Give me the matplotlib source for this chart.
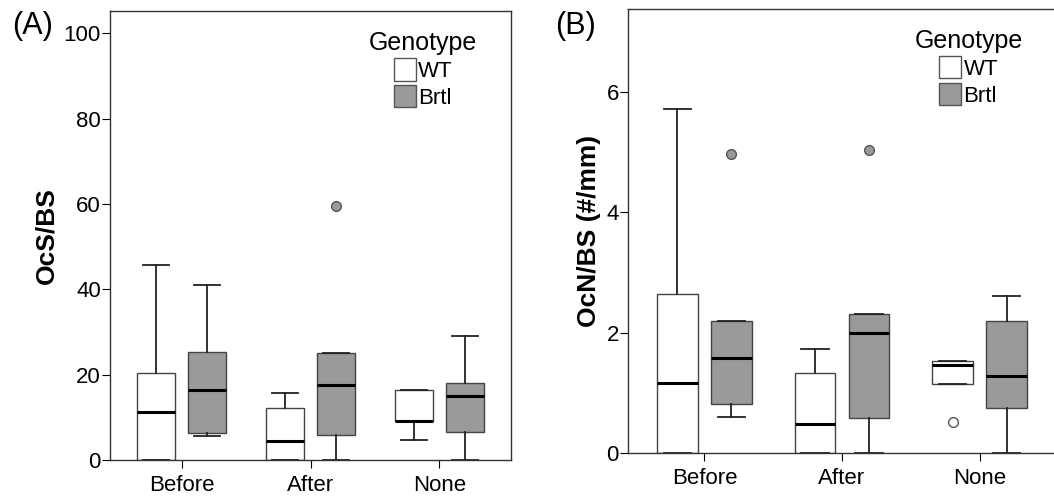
import matplotlib
matplotlib.use("Agg")
import matplotlib.pyplot as plt
from matplotlib.patches import Patch

plt.rcParams['font.family'] = ['Liberation Sans', 'DejaVu Sans']

groups = ["Before", "After", "None"]

# panel A: OcS/BS box stats per group (whislo, q1, med, q3, whishi)
a_wt_lo = [0, 0, 4.6]
a_wt_q1 = [0, 0, 9.2]
a_wt_med = [11.2, 4.5, 9.2]
a_wt_q3 = [20.5, 12.3, 16.5]
a_wt_hi = [45.6, 15.8, 16.5]
a_wt_out = [[], [], []]

a_br_lo = [5.6, 0, 0]
a_br_q1 = [6.4, 5.9, 6.5]
a_br_med = [16.4, 17.5, 15.0]
a_br_q3 = [25.4, 25.0, 18.1]
a_br_hi = [40.9, 25.0, 29.0]
a_br_out = [[], [59.6], []]

# panel B: OcN/BS (#/mm)
b_wt_lo = [0, 0, 1.14]
b_wt_q1 = [0, 0, 1.14]
b_wt_med = [1.17, 0.48, 1.46]
b_wt_q3 = [2.64, 1.33, 1.52]
b_wt_hi = [5.71, 1.72, 1.52]
b_wt_out = [[], [], [0.52]]

b_br_lo = [0.60, 0, 0]
b_br_q1 = [0.81, 0.58, 0.75]
b_br_med = [1.58, 2.0, 1.27]
b_br_q3 = [2.19, 2.31, 2.19]
b_br_hi = [2.19, 2.31, 2.60]
b_br_out = [[4.97], [5.03], []]

WT_COL = "white"
BR_COL = "#9a9a9a"


def stats(lo, q1, med, q3, hi, out):
    res = []
    for i in range(len(lo)):
        res.append(dict(whislo=lo[i], q1=q1[i], med=med[i], q3=q3[i],
                        whishi=hi[i], fliers=out[i]))
    return res


def draw(ax, wt, br, ylim, yticks, ylabel, lx):
    pos = range(len(groups))
    for st, off, col in [(wt, -0.197, WT_COL), (br, 0.197, BR_COL)]:
        ax.bxp(st, positions=[p + off for p in pos], widths=0.295,
               patch_artist=True, showfliers=True, capwidths=0.2,
               boxprops=dict(facecolor=col, edgecolor="#444444", linewidth=1),
               medianprops=dict(color="black", linewidth=2.2),
               whiskerprops=dict(color="#222222", linewidth=1.3),
               capprops=dict(color="#222222", linewidth=1.3),
               flierprops=dict(marker="o", markerfacecolor=col,
                               markeredgecolor="#555555", markersize=7))
    ax.set_xlim(-0.555, 2.555)
    ax.set_ylim(*ylim)
    ax.set_xticks(list(pos))
    ax.set_xticklabels(groups, fontsize=16)
    ax.set_yticks(yticks)
    ax.tick_params(axis="y", labelsize=16, length=6, pad=0.5)
    ax.tick_params(axis="x", length=6, pad=5)
    ax.set_ylabel(ylabel, fontsize=19, fontweight="bold", labelpad=4)
    for s in ax.spines.values():
        s.set_linewidth(1.0)
        s.set_color("#333333")
    handles = [Patch(facecolor=WT_COL, edgecolor="#555555", label="WT"),
               Patch(facecolor=BR_COL, edgecolor="#555555", label="Brtl")]
    leg = ax.legend(handles=handles, title="Genotype", loc="upper right",
                    bbox_to_anchor=lx, frameon=False, fontsize=16,
                    title_fontsize=18, handlelength=1.0, handleheight=1.15,
                    handletextpad=0.1, labelspacing=0.15, borderaxespad=0)
    leg._legend_box.align = "center"


fig = plt.figure(figsize=(10.54, 4.98), dpi=100)
axA = fig.add_axes([110 / 1054, 38 / 498, 401 / 1054, 449 / 498])
axB = fig.add_axes([628 / 1054, 45 / 498, 428 / 1054, 444 / 498])

draw(axA, stats(a_wt_lo, a_wt_q1, a_wt_med, a_wt_q3, a_wt_hi, a_wt_out),
     stats(a_br_lo, a_br_q1, a_br_med, a_br_q3, a_br_hi, a_br_out),
     (0, 105.2), [0, 20, 40, 60, 80, 100], "OcS/BS", (0.938, 0.975))
draw(axB, stats(b_wt_lo, b_wt_q1, b_wt_med, b_wt_q3, b_wt_hi, b_wt_out),
     stats(b_br_lo, b_br_q1, b_br_med, b_br_q3, b_br_hi, b_br_out),
     (0, 7.37), [0, 2, 4, 6], "OcN/BS (#/mm)", (0.943, 0.975))

fig.text(12 / 1054, 1 - 34 / 498, "(A)", fontsize=22)
fig.text(555 / 1054, 1 - 34 / 498, "(B)", fontsize=22)

fig.savefig("out.png", dpi=100)
